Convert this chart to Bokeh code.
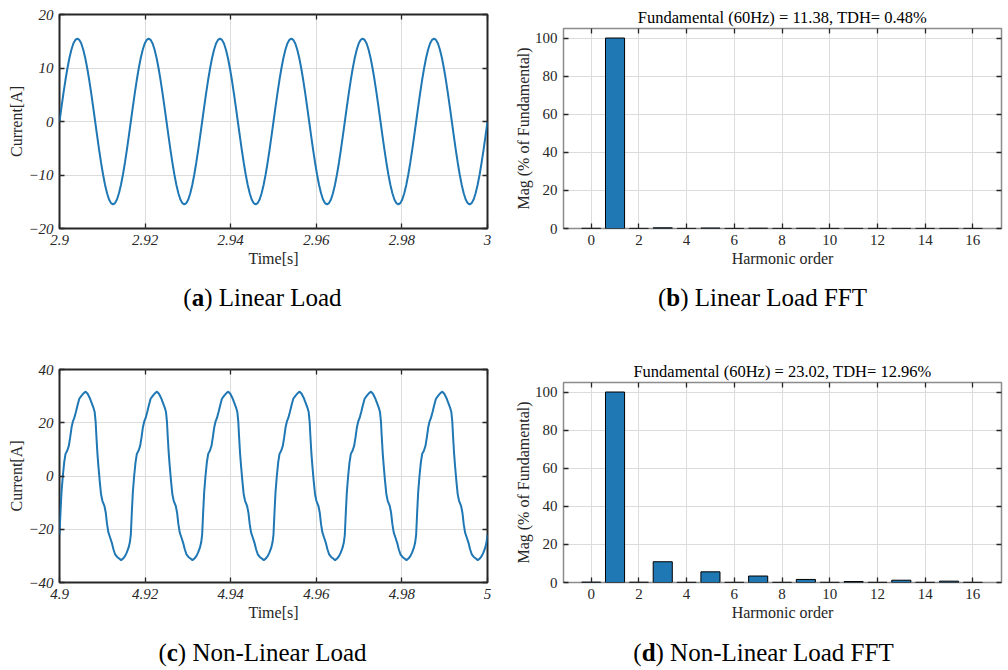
import numpy as np
from bokeh.plotting import figure
from bokeh.layouts import column, row
from bokeh.models import (Range1d, LinearAxis, FixedTicker, CustomJSTickFormatter,
                          Label, ColumnDataSource)
from bokeh.embed import file_html
from bokeh.resources import INLINE

# ---------------- data ----------------
FREQ = 60.0
PERIOD = 1.0 / FREQ
n_cycles = 6

# Linear load current over one 60 Hz cycle, sampled every 10 degrees [A]
linear_cycle = [0.0, 2.69, 5.30, 7.75, 9.96, 11.87, 13.42, 14.57, 15.26,
                15.5, 15.26, 14.57, 13.42, 11.87, 9.96, 7.75, 5.30, 2.69,
                0.0, -2.69, -5.30, -7.75, -9.96, -11.87, -13.42, -14.57, -15.26,
                -15.5, -15.26, -14.57, -13.42, -11.87, -9.96, -7.75, -5.30, -2.69]
linear_start = 2.9

# Non-linear load current over one cycle: time into the cycle [ms] and current [A]
nonlinear_cycle_ms = [0.0, 0.235, 0.469, 0.782, 1.095, 1.408, 1.80, 2.19, 2.50, 2.82,
                      3.13, 3.44, 3.83, 4.23, 4.62, 5.16, 5.71, 6.10, 6.57, 7.04,
                      7.51, 7.90, 8.22, 8.45, 8.61, 8.84, 9.08, 9.39, 9.70, 10.02,
                      10.49, 10.80, 11.11, 11.42, 11.82, 12.21, 12.60, 12.99, 13.46, 13.93,
                      14.40, 14.87, 15.34, 15.73, 16.12, 16.43]
nonlinear_cycle_a = [-22.0, -13.5, -6.1, 0.1, 5.1, 8.3, 9.5, 11.4, 14.6, 18.3,
                     20.5, 21.7, 24.0, 26.7, 29.0, 30.2, 31.2, 31.7, 30.9, 29.4,
                     27.5, 25.8, 24.0, 20.2, 15.2, 8.9, 3.9, -1.8, -6.8, -9.3,
                     -11.2, -13.7, -18.1, -21.2, -23.1, -25.0, -27.5, -29.4, -30.4, -31.0,
                     -31.6, -31.0, -30.0, -28.7, -27.0, -25.0]
nonlinear_start = 4.9

# Harmonic spectra [% of fundamental]
harmonic_order = list(range(17))
linear_fft_mag = [0.1, 100.0, 0.05, 0.35, 0.05, 0.25, 0.05, 0.15, 0.05,
                  0.1, 0.05, 0.05, 0.05, 0.05, 0.05, 0.05, 0.05]
nonlinear_fft_mag = [0.2, 100.0, 0.15, 10.9, 0.1, 5.6, 0.1, 3.4, 0.1,
                     1.6, 0.1, 0.5, 0.1, 1.2, 0.1, 0.7, 0.1]

linear_fft_title = "Fundamental (60Hz) = 11.38, TDH= 0.48%"
nonlinear_fft_title = "Fundamental (60Hz) = 23.02, TDH= 12.96%"

linear_time_ticks = [2.9, 2.92, 2.94, 2.96, 2.98, 3.0]
nonlinear_time_ticks = [4.9, 4.92, 4.94, 4.96, 4.98, 5.0]
linear_current_ticks = [-20, -10, 0, 10, 20]
nonlinear_current_ticks = [-40, -20, 0, 20, 40]
harmonic_ticks = [0, 2, 4, 6, 8, 10, 12, 14, 16]
mag_ticks = [0, 20, 40, 60, 80, 100]

captions = [("a", "Linear Load"), ("b", "Linear Load FFT"),
            ("c", "Non-Linear Load"), ("d", "Non-Linear Load FFT")]

# ---------------- series ----------------
lin_dt = PERIOD / len(linear_cycle)
lin_t = [linear_start + k * lin_dt for k in range(n_cycles * len(linear_cycle) + 1)]
lin_i = linear_cycle * n_cycles + [linear_cycle[0]]

nl_t, nl_i = [], []
for k in range(n_cycles):
    for ms, a in zip(nonlinear_cycle_ms, nonlinear_cycle_a):
        nl_t.append(nonlinear_start + k * PERIOD + ms / 1000.0)
        nl_i.append(a)
nl_t.append(nonlinear_start + n_cycles * PERIOD)
nl_i.append(nonlinear_cycle_a[0])

# ---------------- styling helpers ----------------
SERIF = "Liberation Serif"
BLUE = "#1f77b4"
INK = "#262626"
GRID = "#dcdcdc"
FIG_W = 504

time_fmt = CustomJSTickFormatter(code="return String(Number(tick.toFixed(2)));")
blank_fmt = CustomJSTickFormatter(code="return '';")


def style_axis(ax, ticker, italic, labels=True, formatter=None, label_standoff=2):
    ax.ticker = ticker
    ax.axis_line_color = None
    ax.major_tick_in = 5
    ax.major_tick_out = 0
    ax.major_tick_line_color = INK
    ax.major_tick_line_width = 1.3
    ax.minor_tick_line_color = None
    if labels:
        ax.major_label_text_font = SERIF
        ax.major_label_text_font_size = "15px"
        ax.major_label_text_font_style = "italic" if italic else "normal"
        ax.major_label_text_color = INK
        ax.major_label_standoff = 6
        if formatter is not None:
            ax.formatter = formatter
        ax.axis_label_text_font = SERIF
        ax.axis_label_text_font_size = "16px"
        ax.axis_label_text_font_style = "normal"
        ax.axis_label_text_color = INK
        ax.axis_label_standoff = label_standoff
    else:
        ax.formatter = blank_fmt
        ax.major_label_text_font_size = "0px"
        ax.major_label_standoff = 0


def make_panel(height, xr, yr, xticks, yticks, borders, italic, box_color, box_width,
               xlabel, ylabel, xfmt=None, title=None):
    left, right, top, bottom = borders
    p = figure(width=FIG_W, height=height, x_range=xr, y_range=yr, title=title,
               output_backend="svg", toolbar_location=None,
               min_border_left=left, min_border_right=right,
               min_border_top=top, min_border_bottom=bottom)
    p.background_fill_color = "white"
    p.border_fill_color = "white"
    p.outline_line_color = box_color
    p.outline_line_width = box_width
    if title is not None:
        p.title.align = "center"
        p.title.text_font = SERIF
        p.title.text_font_size = "16.5px"
        p.title.text_font_style = "normal"
        p.title.text_color = "black"
        p.title.standoff = 3
    xt = FixedTicker(ticks=xticks)
    yt = FixedTicker(ticks=yticks)
    style_axis(p.xaxis[0], xt, italic, True, xfmt, label_standoff=2)
    style_axis(p.yaxis[0], yt, italic, True, label_standoff=0)
    p.xaxis[0].axis_label = xlabel
    p.yaxis[0].axis_label = ylabel
    top_ax = LinearAxis()
    right_ax = LinearAxis()
    style_axis(top_ax, FixedTicker(ticks=xticks), italic, False)
    style_axis(right_ax, FixedTicker(ticks=yticks), italic, False)
    p.add_layout(top_ax, "above")
    p.add_layout(right_ax, "right")
    p.xgrid.ticker = xt
    p.ygrid.ticker = yt
    for g in (p.xgrid[0], p.ygrid[0]):
        g.grid_line_color = GRID
        g.grid_line_width = 1
    return p


# caption text metrics (em) used to place the bold panel letter inline
REG_W = {"(": .333, ")": .333, " ": .25, "L": .611, "i": .278, "n": .5, "e": .444,
         "a": .444, "r": .333, "o": .5, "d": .5, "N": .722, "-": .333, "F": .556, "T": .611}
BOLD_W = {"a": .5, "b": .556, "c": .444, "d": .556}
CAP_PX = 25


def caption_strip(height, letter, text, cx, baseline_y):
    s = figure(width=FIG_W, height=height, x_range=Range1d(0, FIG_W), y_range=Range1d(0, height),
               title=None, output_backend="svg", toolbar_location=None,
               x_axis_location=None, y_axis_location=None, min_border=0)
    s.outline_line_color = None
    s.grid.visible = False
    s.background_fill_color = "white"
    s.border_fill_color = "white"
    w_open = REG_W["("] * CAP_PX
    w_letter = BOLD_W[letter] * CAP_PX
    w_close = REG_W[")"] * CAP_PX
    w_space = REG_W[" "] * CAP_PX
    w_text = sum(REG_W[c] for c in text) * CAP_PX
    x0 = cx - (w_open + w_letter + w_close + w_space + w_text) / 2
    parts = [("(", "normal", x0),
             (letter, "bold", x0 + w_open),
             (")", "normal", x0 + w_open + w_letter),
             (text, "normal", x0 + w_open + w_letter + w_close + w_space)]
    for txt, style, x in parts:
        s.add_layout(Label(x=x, y=baseline_y, x_units="screen", y_units="screen", text=txt,
                           text_font=SERIF, text_font_size=f"{CAP_PX}px",
                           text_font_style=style, text_color="black",
                           text_align="left", text_baseline="alphabetic"))
    return s


TOP_H, TOP_CAP = 280, 55
BOT_H, BOT_CAP = 295, 40

# ---------------- (a) linear load current ----------------
pa = make_panel(TOP_H, Range1d(2.9, 3.0), Range1d(-20, 20), linear_time_ticks, linear_current_ticks,
                (59, 17, 14, 52), True, INK, 2, "Time[s]", "Current[A]", time_fmt)
pa.line(x="t", y="i", source=ColumnDataSource(dict(t=lin_t, i=lin_i)),
        line_color=BLUE, line_width=2)

# ---------------- (b) linear load spectrum ----------------
pb = make_panel(TOP_H, Range1d(-1.16, 17.2), Range1d(0, 105), harmonic_ticks, mag_ticks,
                (59, 7, 28, 52), False, "#8c8c8c", 1.5, "Harmonic order", "Mag (% of Fundamental)",
                title=linear_fft_title)
pb.vbar(x="h", top="m", width=0.8, bottom=0,
        source=ColumnDataSource(dict(h=harmonic_order, m=linear_fft_mag)),
        fill_color=BLUE, line_color="black", line_width=1)

# ---------------- (c) non-linear load current ----------------
pc = make_panel(BOT_H, Range1d(4.9, 5.0), Range1d(-40, 40), nonlinear_time_ticks, nonlinear_current_ticks,
                (59, 17, 34, 48), True, INK, 2, "Time[s]", "Current[A]", time_fmt)
pc.line(x="t", y="i", source=ColumnDataSource(dict(t=nl_t, i=nl_i)),
        line_color=BLUE, line_width=2)

# ---------------- (d) non-linear load spectrum ----------------
pd_ = make_panel(BOT_H, Range1d(-1.16, 17.2), Range1d(0, 105), harmonic_ticks, mag_ticks,
                 (59, 7, 47, 48), False, "#8c8c8c", 1.5, "Harmonic order", "Mag (% of Fundamental)",
                 title=nonlinear_fft_title)
pd_.vbar(x="h", top="m", width=0.8, bottom=0,
         source=ColumnDataSource(dict(h=harmonic_order, m=nonlinear_fft_mag)),
         fill_color=BLUE, line_color="black", line_width=1)

# ---------------- captions ----------------
ca = caption_strip(TOP_CAP, *captions[0], cx=262, baseline_y=38)
cb = caption_strip(TOP_CAP, *captions[1], cx=258, baseline_y=38)
cc = caption_strip(BOT_CAP, *captions[2], cx=262, baseline_y=18)
cd = caption_strip(BOT_CAP, *captions[3], cx=259, baseline_y=18)

# each panel sits in its own column so its frame keeps its own borders
layout = column(row(column(pa), column(pb)), row(ca, cb),
                row(column(pc), column(pd_)), row(cc, cd))
open("out.html", "w").write(file_html(layout, INLINE))
